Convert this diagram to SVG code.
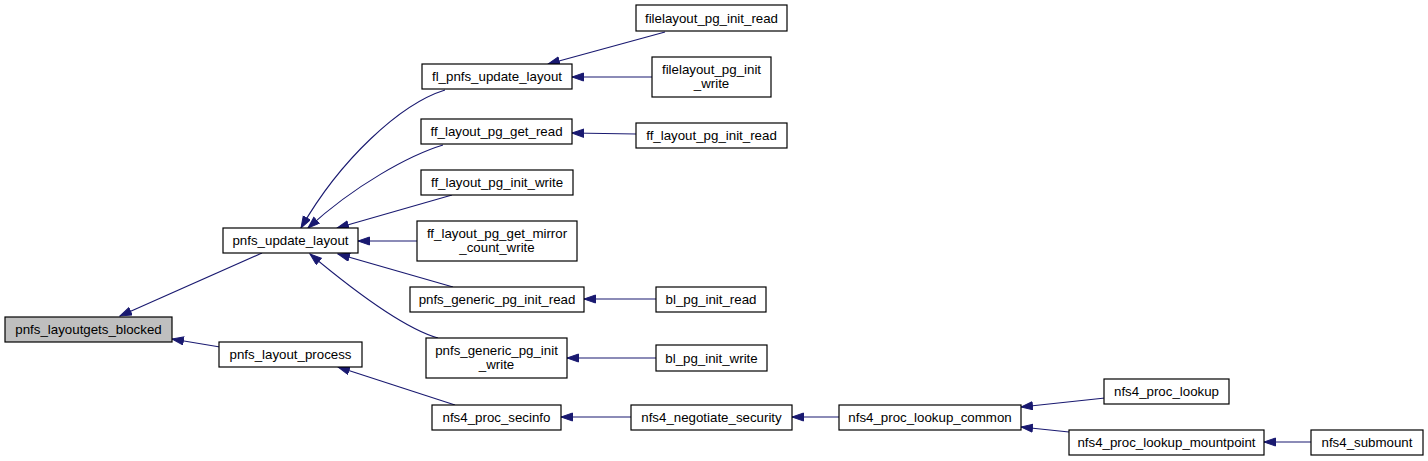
<svg xmlns="http://www.w3.org/2000/svg" width="1428" height="461" viewBox="0 0 1428 461">
<style>
.n rect{fill:#fff;stroke:#000;stroke-width:1.2}
.n.root rect{fill:#bfbfbf}
.n text{font-family:"Liberation Sans",Arial,sans-serif;font-size:13.3px;text-anchor:middle;fill:#000}
.e path{fill:none;stroke:#191970;stroke-width:1.1}
</style>
<defs>
<marker id="ah" markerUnits="userSpaceOnUse" markerWidth="13" markerHeight="10" refX="12" refY="4.5" orient="auto">
<path d="M0.5,0.5 L12,4.5 L0.5,8.5 z" fill="#191970" stroke="#191970" stroke-width="1"/>
</marker>
</defs>
<rect width="1428" height="461" fill="#fff"/>
<g id="connectors" class="e">
<path marker-end="url(#ah)" d="M262,253 L120,316"/>
<path marker-end="url(#ah)" d="M220,347 L172,339"/>
<path marker-end="url(#ah)" d="M445,90 C400,104 340,160 301,228"/>
<path marker-end="url(#ah)" d="M443,145 C410,155 355,185 308,228"/>
<path marker-end="url(#ah)" d="M452,195 L337,228"/>
<path marker-end="url(#ah)" d="M417,241 L358,241"/>
<path marker-end="url(#ah)" d="M453,287 L338,254"/>
<path marker-end="url(#ah)" d="M438,338 C410,330 365,300 310,254"/>
<path marker-end="url(#ah)" d="M455,405 L338,367"/>
<path marker-end="url(#ah)" d="M665,32 L548,64"/>
<path marker-end="url(#ah)" d="M652,77 L572,77"/>
<path marker-end="url(#ah)" d="M636,134 L572,133"/>
<path marker-end="url(#ah)" d="M656,299 L584,299"/>
<path marker-end="url(#ah)" d="M656,358 L567,358"/>
<path marker-end="url(#ah)" d="M631,417 L561,417"/>
<path marker-end="url(#ah)" d="M839,417 L792,417"/>
<path marker-end="url(#ah)" d="M1105,398 L1021,407"/>
<path marker-end="url(#ah)" d="M1069,432 L1021,427"/>
<path marker-end="url(#ah)" d="M1311,442 L1264,442"/>
</g>
<g id="pnfs_layoutgets_blocked" class="n root"><rect x="5" y="317" width="167" height="25"/><text x="88.5" y="334">pnfs_layoutgets_blocked</text></g>
<g id="pnfs_update_layout" class="n"><rect x="223" y="228" width="135" height="25"/><text x="290.5" y="245">pnfs_update_layout</text></g>
<g id="pnfs_layout_process" class="n"><rect x="219" y="342" width="143" height="25"/><text x="290.5" y="359">pnfs_layout_process</text></g>
<g id="fl_pnfs_update_layout" class="n"><rect x="422" y="64" width="150" height="25"/><text x="497" y="81">fl_pnfs_update_layout</text></g>
<g id="filelayout_pg_init_read" class="n"><rect x="636" y="5" width="151" height="26"/><text x="711.5" y="22.5">filelayout_pg_init_read</text></g>
<g id="filelayout_pg_init_write" class="n"><rect x="652" y="57" width="119" height="40"/><text x="711.5" y="74">filelayout_pg_init</text><text x="711.5" y="88">_write</text></g>
<g id="ff_layout_pg_get_read" class="n"><rect x="421" y="119" width="151" height="25"/><text x="496.5" y="136">ff_layout_pg_get_read</text></g>
<g id="ff_layout_pg_init_read" class="n"><rect x="636" y="123" width="151" height="25"/><text x="711.5" y="140">ff_layout_pg_init_read</text></g>
<g id="ff_layout_pg_init_write" class="n"><rect x="421" y="170" width="152" height="25"/><text x="497" y="187">ff_layout_pg_init_write</text></g>
<g id="ff_layout_pg_get_mirror_count_write" class="n"><rect x="417" y="221" width="160" height="40"/><text x="497" y="238">ff_layout_pg_get_mirror</text><text x="497" y="252">_count_write</text></g>
<g id="pnfs_generic_pg_init_read" class="n"><rect x="410" y="287" width="174" height="25"/><text x="497" y="304">pnfs_generic_pg_init_read</text></g>
<g id="bl_pg_init_read" class="n"><rect x="656" y="287" width="110" height="25"/><text x="711" y="304">bl_pg_init_read</text></g>
<g id="pnfs_generic_pg_init_write" class="n"><rect x="426" y="338" width="141" height="40"/><text x="496.5" y="355">pnfs_generic_pg_init</text><text x="496.5" y="369">_write</text></g>
<g id="bl_pg_init_write" class="n"><rect x="656" y="345" width="111" height="26"/><text x="711.5" y="362.5">bl_pg_init_write</text></g>
<g id="nfs4_proc_secinfo" class="n"><rect x="432" y="405" width="129" height="25"/><text x="496.5" y="422">nfs4_proc_secinfo</text></g>
<g id="nfs4_negotiate_security" class="n"><rect x="631" y="405" width="161" height="25"/><text x="711.5" y="422">nfs4_negotiate_security</text></g>
<g id="nfs4_proc_lookup_common" class="n"><rect x="839" y="405" width="182" height="25"/><text x="930" y="422">nfs4_proc_lookup_common</text></g>
<g id="nfs4_proc_lookup" class="n"><rect x="1104" y="379" width="125" height="25"/><text x="1166.5" y="396">nfs4_proc_lookup</text></g>
<g id="nfs4_proc_lookup_mountpoint" class="n"><rect x="1069" y="430" width="195" height="25"/><text x="1166.5" y="447">nfs4_proc_lookup_mountpoint</text></g>
<g id="nfs4_submount" class="n"><rect x="1311" y="430" width="112" height="25"/><text x="1367" y="447">nfs4_submount</text></g>
</svg>
